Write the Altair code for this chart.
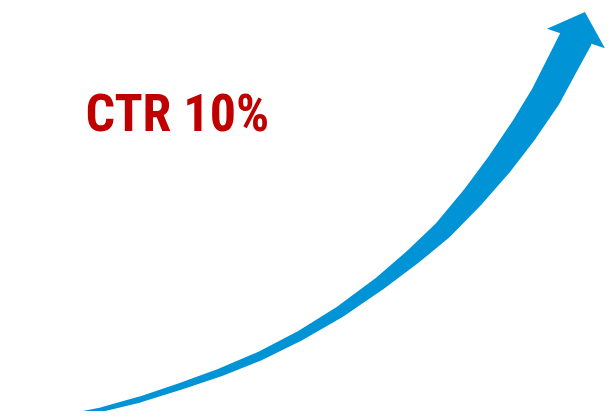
import altair as alt
import pandas as pd

# centre line of the growth arrow (picture coordinates) and its width
curve_x = [33, 60, 100, 140, 180, 220, 260, 300, 340, 380, 413, 443, 473, 500, 524, 545.5, 563, 576]
curve_y = [419.5, 416.5, 410, 399.5, 386.5, 372.5, 356, 335.8, 311.7, 283.3, 256.7, 230, 196.7, 163.3, 130, 96.7, 63.3, 38.5]
curve_w = [1, 2.5, 4.5, 6, 7, 8, 9, 10, 11.5, 13.5, 16.5, 19.5, 23, 26.5, 29, 31, 32, 33]

# arrow head
head_x = [576]
head_y = [38.5]

# label
label_text = ["CTR 10%"]
label_x = [85.5]
label_y = [131]

BLUE = "#0093D6"
RED = "#C00000"

curve = pd.DataFrame({"i": list(range(len(curve_x))), "x": curve_x, "y": curve_y, "w": curve_w})
head = pd.DataFrame({"x": head_x, "y": head_y})
label = pd.DataFrame({"x": label_x, "y": label_y, "t": label_text})

xs = alt.Scale(domain=[8, 607], nice=False, zero=False)
ys = alt.Scale(domain=[8, 411], reverse=True, nice=False, zero=False)

trail = alt.Chart(curve).mark_trail(color=BLUE, opacity=1).encode(
    x=alt.X("x:Q", scale=xs, axis=None),
    y=alt.Y("y:Q", scale=ys, axis=None),
    size=alt.Size("w:Q", scale=None, legend=None),
    order=alt.Order("i:Q"),
)

arrow_head = alt.Chart(head).mark_point(
    shape="M0,-0.92L1,0L-1,0Z",
    filled=True,
    size=3721,
    angle=18.5,
    color=BLUE,
    opacity=1,
    strokeWidth=0,
).encode(
    x=alt.X("x:Q", scale=xs, axis=None),
    y=alt.Y("y:Q", scale=ys, axis=None),
)

text = alt.Chart(label).mark_text(
    align="left",
    baseline="alphabetic",
    font="'Roboto Condensed', 'Open Sans Condensed', sans-serif",
    fontWeight="bold",
    fontSize=52,
    color=RED,
).encode(
    x=alt.X("x:Q", scale=xs, axis=None),
    y=alt.Y("y:Q", scale=ys, axis=None),
    text="t:N",
)

chart = alt.layer(trail, arrow_head, text).properties(
    width=599,
    height=403,
    padding=0,
    autosize=alt.AutoSizeParams(type="none"),
    background="white",
).configure_view(stroke="transparent")

chart.save("out.html", embed_options={"renderer": "svg", "actions": False})
